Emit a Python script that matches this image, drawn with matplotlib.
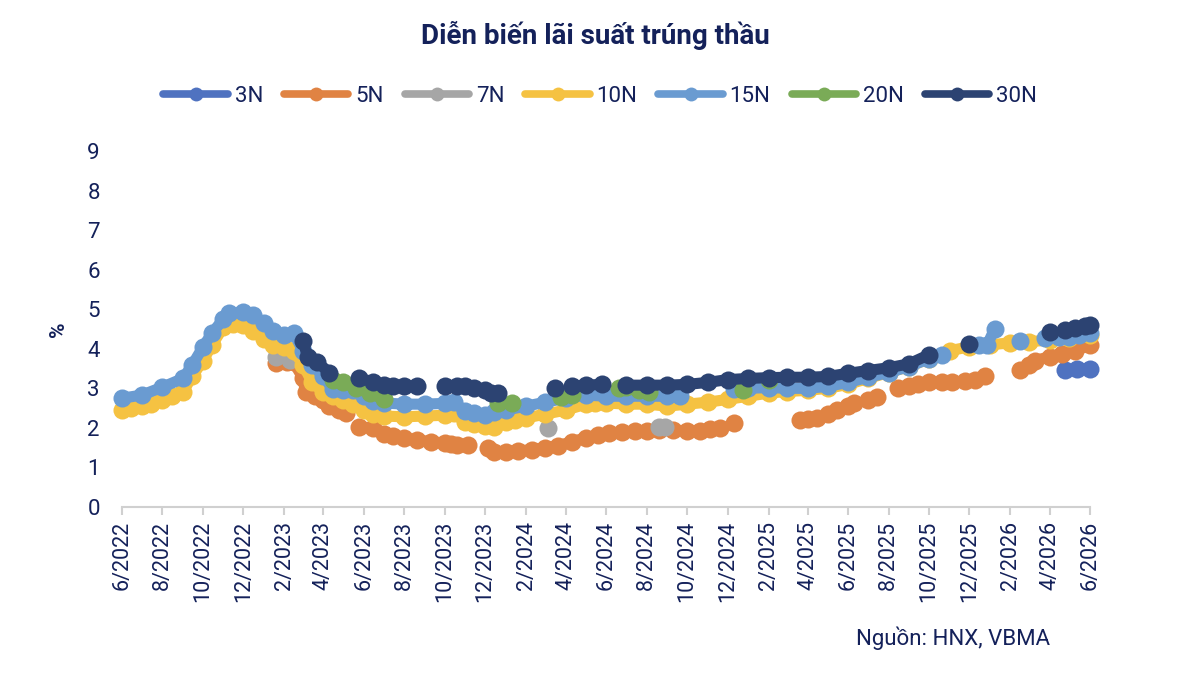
import numpy as np
import pandas as pd
import matplotlib
matplotlib.use('Agg')
import matplotlib.pyplot as plt
import matplotlib.dates as mdates
from matplotlib.lines import Line2D
from matplotlib.ticker import FuncFormatter

nan = np.nan
plt.rcParams['font.family'] = ['Roboto', 'DejaVu Sans']

navy = '#14215A'

# --- data, nan = gap between auctions ---
dates_3n = ['2026-04-25', '2026-05-12', '2026-06-01']
rate_3n = [3.46, 3.5, 3.5]

dates_5n = ['2023-01-20', '2023-02-05', '2023-02-15', '2023-03-01', '2023-03-05', '2023-03-20',
            '2023-04-01', '2023-04-10', '2023-04-25', '2023-05-05', '2023-05-15',
            '2023-05-25', '2023-06-15', '2023-06-22',
            '2023-07-01', '2023-07-15', '2023-08-01', '2023-08-20', '2023-09-10', '2023-10-01',
            '2023-10-10', '2023-10-15',
            '2023-10-20', '2023-11-05', '2023-11-20',
            '2023-12-05', '2023-12-15', '2024-01-01', '2024-01-20', '2024-02-10', '2024-03-01',
            '2024-03-20', '2024-04-10', '2024-05-01', '2024-05-20', '2024-06-05', '2024-06-15',
            '2024-06-25', '2024-07-15', '2024-08-01', '2024-08-20', '2024-09-10', '2024-10-01',
            '2024-10-20', '2024-11-05', '2024-11-20', '2024-12-01',
            '2024-12-10', '2025-02-01',
            '2025-03-20', '2025-04-01', '2025-04-15', '2025-05-01', '2025-05-15', '2025-06-01',
            '2025-06-10', '2025-06-20',
            '2025-07-01', '2025-07-15', '2025-08-01',
            '2025-08-15', '2025-09-01', '2025-09-15', '2025-10-01', '2025-10-20', '2025-11-05',
            '2025-11-15',
            '2025-11-25', '2025-12-10', '2025-12-25', '2026-01-20',
            '2026-02-15', '2026-03-01', '2026-03-10', '2026-04-01', '2026-04-20', '2026-05-10',
            '2026-06-01']
rate_5n = [3.64, 3.66, 3.66, 3.26, 2.91, 2.8,
           2.7, 2.55, 2.45, 2.38, nan,
           2.02, 2.0, nan,
           1.85, 1.8, 1.74, 1.7, 1.65, 1.62,
           1.6, nan,
           1.57, 1.57, nan,
           1.5, 1.4, 1.4, 1.42, 1.45, 1.5,
           1.55, 1.65, 1.75, 1.82, 1.87, nan,
           1.9, 1.92, 1.93, 1.95, 1.95, 1.92,
           1.93, 1.97, 2.0, nan,
           2.12, nan,
           2.2, 2.22, 2.25, 2.35, 2.45, 2.55,
           2.63, nan,
           2.7, 2.78, nan,
           3.0, 3.05, 3.1, 3.15, 3.16, 3.17,
           nan,
           3.18, 3.2, 3.3, nan,
           3.46, 3.6, 3.7, 3.8, 3.88, 3.95,
           4.1]

dates_7n = ['2023-01-20', '2023-02-10', '2023-06-01', '2024-03-05', '2024-06-01',
            '2024-08-20', '2024-08-28']
rate_7n = [3.8, 3.72, nan, 2.0, nan, 2.03, 2.03]

dates_10n = ['2022-06-01', '2022-06-15', '2022-07-01', '2022-07-15', '2022-08-01', '2022-08-15',
             '2022-09-01', '2022-09-15', '2022-10-01', '2022-10-15', '2022-11-01', '2022-11-15',
             '2022-12-01', '2022-12-15',
             '2023-01-01', '2023-01-15', '2023-02-01', '2023-02-15', '2023-03-01', '2023-03-15',
             '2023-04-01', '2023-04-15', '2023-05-01', '2023-05-15', '2023-06-01', '2023-06-15',
             '2023-07-01', '2023-08-01', '2023-09-01', '2023-10-01', '2023-10-15', '2023-11-01',
             '2023-11-15', '2023-12-01', '2023-12-15',
             '2024-01-01', '2024-01-15', '2024-02-01', '2024-03-01', '2024-04-01', '2024-05-01',
             '2024-05-15', '2024-06-01', '2024-07-01', '2024-08-01', '2024-09-01', '2024-10-01',
             '2024-11-01', '2024-12-01',
             '2025-01-01', '2025-02-01', '2025-03-01', '2025-04-01', '2025-05-01', '2025-06-01',
             '2025-07-01', '2025-08-01', '2025-09-01', '2025-10-01', '2025-11-01', '2025-12-01',
             '2026-01-01', '2026-02-01', '2026-03-01', '2026-04-01', '2026-05-01', '2026-06-01']
rate_10n = [2.45, 2.5, 2.55, 2.6, 2.7, 2.8,
            2.92, 3.3, 3.7, 4.1, 4.55, 4.62,
            4.6, 4.45,
            4.25, 4.1, 4.05, 3.95, 3.6, 3.15,
            2.9, 2.8, 2.7, 2.6, 2.45, 2.35,
            2.3, 2.28, 2.3, 2.32, 2.37, 2.15,
            2.1, 2.05, 2.02,
            2.15, 2.2, 2.25, 2.35, 2.45, 2.6,
            2.63, 2.63, 2.6, 2.6, 2.55, 2.6,
            2.65, 2.72,
            2.8, 2.88, 2.92, 2.95, 3.0, 3.1,
            3.25, 3.4, 3.55, 3.75, 3.95, 4.05,
            4.1, 4.15, 4.18, 4.22, 4.28, 4.35]

dates_15n = ['2022-06-01', '2022-07-01', '2022-08-01', '2022-09-01', '2022-09-15', '2022-10-01',
             '2022-10-15', '2022-11-01', '2022-11-10', '2022-12-01', '2022-12-15',
             '2023-01-01', '2023-01-15', '2023-02-01', '2023-02-15', '2023-03-01', '2023-03-15',
             '2023-04-01', '2023-04-15', '2023-05-01', '2023-05-15', '2023-06-01', '2023-06-15',
             '2023-07-01', '2023-08-01', '2023-09-01', '2023-10-01', '2023-10-15', '2023-11-01',
             '2023-11-15', '2023-12-01', '2023-12-15',
             '2024-01-01', '2024-02-01', '2024-03-01', '2024-04-01', '2024-05-01', '2024-06-01',
             '2024-07-01', '2024-08-01', '2024-09-01', '2024-09-20', '2024-11-01',
             '2024-12-10', '2025-01-01', '2025-02-01', '2025-03-01', '2025-04-01', '2025-05-01',
             '2025-06-01', '2025-07-01', '2025-08-01', '2025-09-01', '2025-10-01', '2025-10-20',
             '2025-11-20',
             '2025-12-15', '2025-12-28', '2026-01-08', '2026-01-25',
             '2026-02-15', '2026-03-01',
             '2026-03-25', '2026-04-15', '2026-05-01', '2026-05-15', '2026-06-01']
rate_15n = [2.75, 2.83, 3.03, 3.25, 3.59, 4.04,
            4.4, 4.75, 4.9, 4.93, 4.85,
            4.65, 4.45, 4.35, 4.4, 3.95, 3.6,
            3.3, 2.98, 2.97, 2.95, 2.8, 2.68,
            2.63, 2.6, 2.6, 2.62, 2.65, 2.42,
            2.38, 2.33, 2.4,
            2.45, 2.55, 2.65, 2.75, 2.83, 2.8,
            2.8, 2.8, 2.8, 2.8, nan,
            2.98, 3.0, 3.02, 3.0, 3.0, 3.05,
            3.15, 3.28, 3.4, 3.55, 3.75, 3.85,
            nan,
            4.1, 4.1, 4.5, nan,
            4.2, nan,
            4.27, 4.3, 4.3, 4.35, 4.4]

dates_20n = ['2023-04-15', '2023-05-01', '2023-05-20', '2023-06-10', '2023-07-01', '2023-09-01',
             '2023-12-20', '2024-01-10', '2024-02-15', '2024-03-25', '2024-04-10', '2024-05-15',
             '2024-06-20', '2024-07-01', '2024-07-20', '2024-08-05', '2024-10-01',
             '2024-12-25', '2025-01-15', '2025-02-01']
rate_20n = [3.2, 3.15, 3.0, 2.88, 2.72, nan,
            2.62, 2.63, nan, 2.78, 2.83, nan,
            3.0, 3.04, 2.95, 2.9, nan,
            2.96, nan, 3.22]

dates_30n = ['2023-03-01', '2023-03-08', '2023-03-22', '2023-04-10', '2023-05-01',
             '2023-05-25', '2023-06-15', '2023-07-01', '2023-07-15', '2023-08-01', '2023-08-20',
             '2023-09-10', '2023-10-01', '2023-10-10',
             '2023-10-20', '2023-11-01', '2023-11-15', '2023-12-01', '2023-12-10', '2023-12-20',
             '2024-02-01', '2024-03-15', '2024-03-28',
             '2024-04-10', '2024-05-01', '2024-05-25', '2024-06-10',
             '2024-07-01', '2024-08-01', '2024-09-01', '2024-10-01', '2024-11-01', '2024-12-01',
             '2025-01-01', '2025-02-01', '2025-03-01', '2025-04-01', '2025-05-01', '2025-06-01',
             '2025-07-01', '2025-08-01', '2025-09-01', '2025-10-01', '2025-11-01',
             '2025-12-01', '2026-02-01', '2026-04-01', '2026-04-12',
             '2026-04-25', '2026-05-10', '2026-05-25', '2026-06-01']
rate_30n = [4.2, 3.8, 3.67, 3.4, nan,
            3.26, 3.16, 3.08, 3.06, 3.06, 3.06,
            nan, 3.05, nan,
            3.05, 3.05, 3.02, 2.96, 2.88, 2.88,
            nan, 3.0, nan,
            3.05, 3.08, 3.1, nan,
            3.08, 3.08, 3.08, 3.1, 3.15, 3.22,
            3.25, 3.27, 3.28, 3.28, 3.3, 3.38,
            3.45, 3.52, 3.62, 3.85, nan,
            4.12, nan, 4.43, nan,
            4.48, 4.52, 4.57, 4.6]

labels = ['3N', '5N', '7N', '10N', '15N', '20N', '30N']
colors = ['#4F72C0', '#E08343', '#A6A6A6', '#F5C242', '#6A9BD1', '#7AAB57', '#2C4372']
all_dates = [dates_3n, dates_5n, dates_7n, dates_10n, dates_15n, dates_20n, dates_30n]
all_rates = [rate_3n, rate_5n, rate_7n, rate_10n, rate_15n, rate_20n, rate_30n]

fig = plt.figure(figsize=(12, 6.78), dpi=100)
ax = fig.add_axes([0.1017, 0.2522, 0.8066, 0.5251])

for lab, col, d, r in zip(labels, colors, all_dates, all_rates):
    ax.plot(pd.to_datetime(d), r, '-o', color=col, lw=8, ms=13,
            mec=col, mew=0, clip_on=False, solid_capstyle='round',
            solid_joinstyle='round', label=lab)

ax.set_xlim(pd.Timestamp('2022-06-01'), pd.Timestamp('2026-06-01'))
ax.set_ylim(0, 9)
ax.set_yticks(range(0, 10))

ax.xaxis.set_major_locator(mdates.MonthLocator(bymonth=[2, 4, 6, 8, 10, 12]))
ax.xaxis.set_major_formatter(FuncFormatter(
    lambda x, pos: f"{mdates.num2date(x).month}/{mdates.num2date(x).year}"))

for s in ['top', 'right', 'left']:
    ax.spines[s].set_visible(False)
ax.spines['bottom'].set_color('#D0D0D0')
ax.spines['bottom'].set_linewidth(1.5)
ax.tick_params(axis='x', colors='#D0D0D0', length=6, width=1.5, labelcolor=navy,
               labelsize=15.5, rotation=90, pad=4)
ax.tick_params(axis='y', length=0, labelcolor=navy, labelsize=16, pad=16)

ax.set_ylabel('%', color=navy, fontsize=15, fontweight='bold', labelpad=14)

fig.text(0.496, 0.948, 'Diễn biến lãi suất trúng thầu', ha='center', va='center',
         fontsize=20, fontweight='bold', color=navy)
fig.text(0.875, 0.059, 'Nguồn: HNX, VBMA', ha='right', va='center',
         fontsize=16, color=navy)

# legend keys: thinner line with a dot, like the original
legend_keys = [Line2D([], [], color=c, lw=5.5, marker='o', ms=10, mew=0,
                      solid_capstyle='round') for c in colors]
fig.legend(handles=legend_keys, labels=labels, loc='center', bbox_to_anchor=(0.5, 1 - 96 / 678),
           ncol=7, frameon=False, fontsize=16, handlelength=2.9, handletextpad=0.3,
           columnspacing=0.95, labelcolor=navy)

fig.savefig('out.png', dpi=100)
